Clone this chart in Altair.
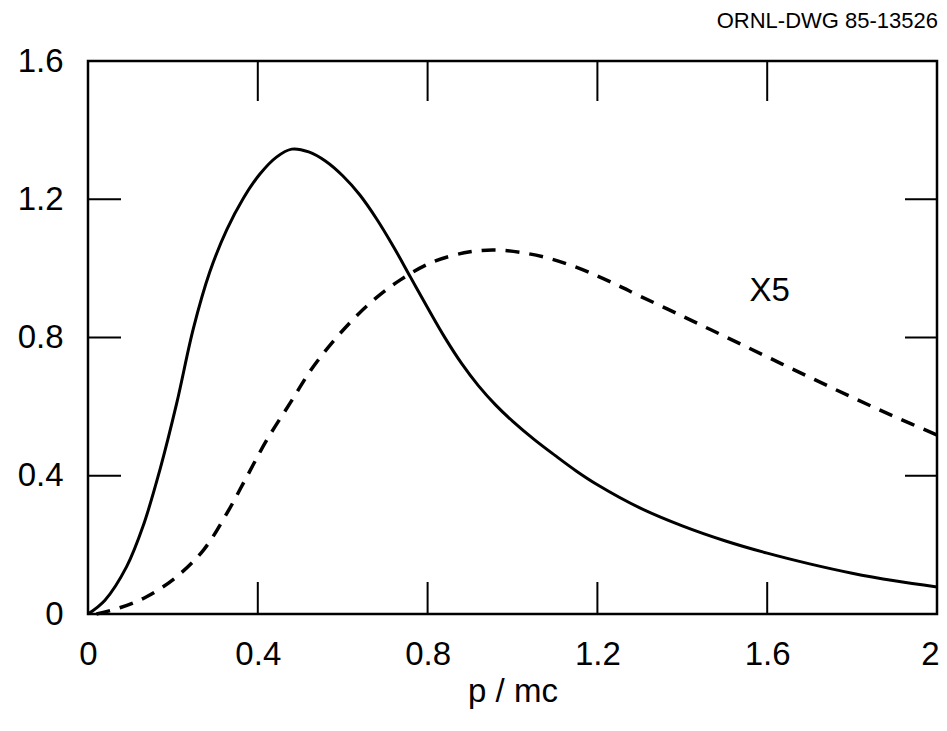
import altair as alt
import pandas as pd

# Solid curve
x_solid = [0.0, 0.04, 0.091, 0.130, 0.170, 0.209, 0.248, 0.287, 0.327, 0.366, 0.405,
           0.444, 0.48, 0.52, 0.56, 0.60, 0.64, 0.68, 0.72, 0.76, 0.80, 0.84, 0.88,
           0.92, 0.96, 1.0, 1.05, 1.1, 1.15, 1.2, 1.3, 1.4, 1.5, 1.6, 1.7, 1.8, 1.9, 2.0]
y_solid = [0.0, 0.040, 0.137, 0.255, 0.420, 0.610, 0.825, 0.990, 1.112, 1.203, 1.273,
           1.322, 1.345, 1.337, 1.310, 1.268, 1.213, 1.143, 1.062, 0.974, 0.886, 0.801,
           0.725, 0.660, 0.605, 0.558, 0.506, 0.459, 0.414, 0.374, 0.307, 0.255, 0.212,
           0.176, 0.145, 0.118, 0.096, 0.078]

# Dashed curve (x5)
x_dash = [0.020, 0.075, 0.138, 0.209, 0.272, 0.327, 0.374, 0.421, 0.476, 0.531, 0.594,
          0.664, 0.735, 0.813, 0.900, 0.960, 1.02, 1.08, 1.14, 1.20, 1.25, 1.3, 1.4,
          1.5, 1.6, 1.7, 1.8, 1.9, 2.0]
y_dash = [0.0, 0.018, 0.050, 0.108, 0.185, 0.291, 0.397, 0.503, 0.610, 0.716, 0.812,
          0.899, 0.966, 1.019, 1.048, 1.053, 1.046, 1.031, 1.008, 0.978, 0.950, 0.920,
          0.862, 0.803, 0.744, 0.685, 0.627, 0.571, 0.518]

x_ticks = [0, 0.4, 0.8, 1.2, 1.6, 2]
y_ticks = [0, 0.4, 0.8, 1.2, 1.6]
x_inner_ticks = [0.4, 0.8, 1.2, 1.6]
y_inner_ticks = [0.4, 0.8, 1.2]

label_text = ["X5"]
label_x = [1.606]
label_y = [0.935]
drawing_id = "ORNL-DWG 85-13526"

W, H = 849, 553
FONT = "Liberation Sans, Arial, sans-serif"

xs = alt.Scale(domain=[0, 2], nice=False, zero=False)
ys = alt.Scale(domain=[0, 1.6], nice=False, zero=False)

solid_df = pd.DataFrame({"x": x_solid, "y": y_solid})
dash_df = pd.DataFrame({"x": x_dash, "y": y_dash})
xt_df = pd.DataFrame({"x": x_inner_ticks})
yt_df = pd.DataFrame({"y": y_inner_ticks})
lab_df = pd.DataFrame({"t": label_text, "x": label_x, "y": label_y})
id_df = pd.DataFrame({"t": [drawing_id]})

x_axis = alt.Axis(values=x_ticks, ticks=False, domain=False, grid=False,
                  labelFontSize=33, labelFont=FONT, labelColor="black",
                  labelPadding=24, labelFlush=False, labelOverlap=False,
                  labelAlign={"condition": {"test": "datum.value >= 2", "value": "right"},
                              "value": "center"},
                  labelOffset={"condition": {"test": "datum.value >= 2", "value": 2},
                               "value": 0},
                  title="p / mc", titleFontSize=33, titleFont=FONT,
                  titleFontWeight="normal", titleColor="black", titlePadding=4,
                  format="~g")
y_axis = alt.Axis(values=y_ticks, ticks=False, domain=False, grid=False,
                  labelFontSize=33, labelFont=FONT, labelColor="black",
                  labelPadding=25, labelFlush=False, labelOverlap=False,
                  title=None, format="~g")

solid = alt.Chart(solid_df).mark_line(color="black", strokeWidth=3, interpolate="catmull-rom").encode(
    x=alt.X("x:Q", scale=xs, axis=x_axis),
    y=alt.Y("y:Q", scale=ys, axis=y_axis),
)
dashed = alt.Chart(dash_df).mark_line(color="black", strokeWidth=3.5, strokeDash=[14, 10],
                                      interpolate="catmull-rom").encode(
    x=alt.X("x:Q", scale=xs),
    y=alt.Y("y:Q", scale=ys),
)

bottom_ticks = alt.Chart(xt_df).mark_rule(color="black", strokeWidth=2).encode(
    x=alt.X("x:Q", scale=xs), y=alt.value(H), y2=alt.value(H - 32))
top_ticks = alt.Chart(xt_df).mark_rule(color="black", strokeWidth=2).encode(
    x=alt.X("x:Q", scale=xs), y=alt.value(0), y2=alt.value(40))
left_ticks = alt.Chart(yt_df).mark_rule(color="black", strokeWidth=2).encode(
    y=alt.Y("y:Q", scale=ys), x=alt.value(0), x2=alt.value(33))
right_ticks = alt.Chart(yt_df).mark_rule(color="black", strokeWidth=2).encode(
    y=alt.Y("y:Q", scale=ys), x=alt.value(W), x2=alt.value(W - 32))

x5 = alt.Chart(lab_df).mark_text(font=FONT, fontSize=33, color="black").encode(
    x=alt.X("x:Q", scale=xs), y=alt.Y("y:Q", scale=ys), text="t:N")

ident = alt.Chart(id_df).mark_text(font=FONT, fontSize=22, color="black", align="right",
                                   baseline="alphabetic").encode(
    x=alt.value(W + 1), y=alt.value(-33), text="t:N")

chart = alt.layer(solid, dashed, bottom_ticks, top_ticks, left_ticks, right_ticks, x5, ident).properties(
    width=W, height=H,
    autosize="none",
    padding={"left": 80, "top": 53, "right": 2, "bottom": 105},
    background="white",
).configure_view(stroke="black", strokeWidth=2.5)

chart.save("out.html", embed_options={"renderer": "svg", "actions": False})
